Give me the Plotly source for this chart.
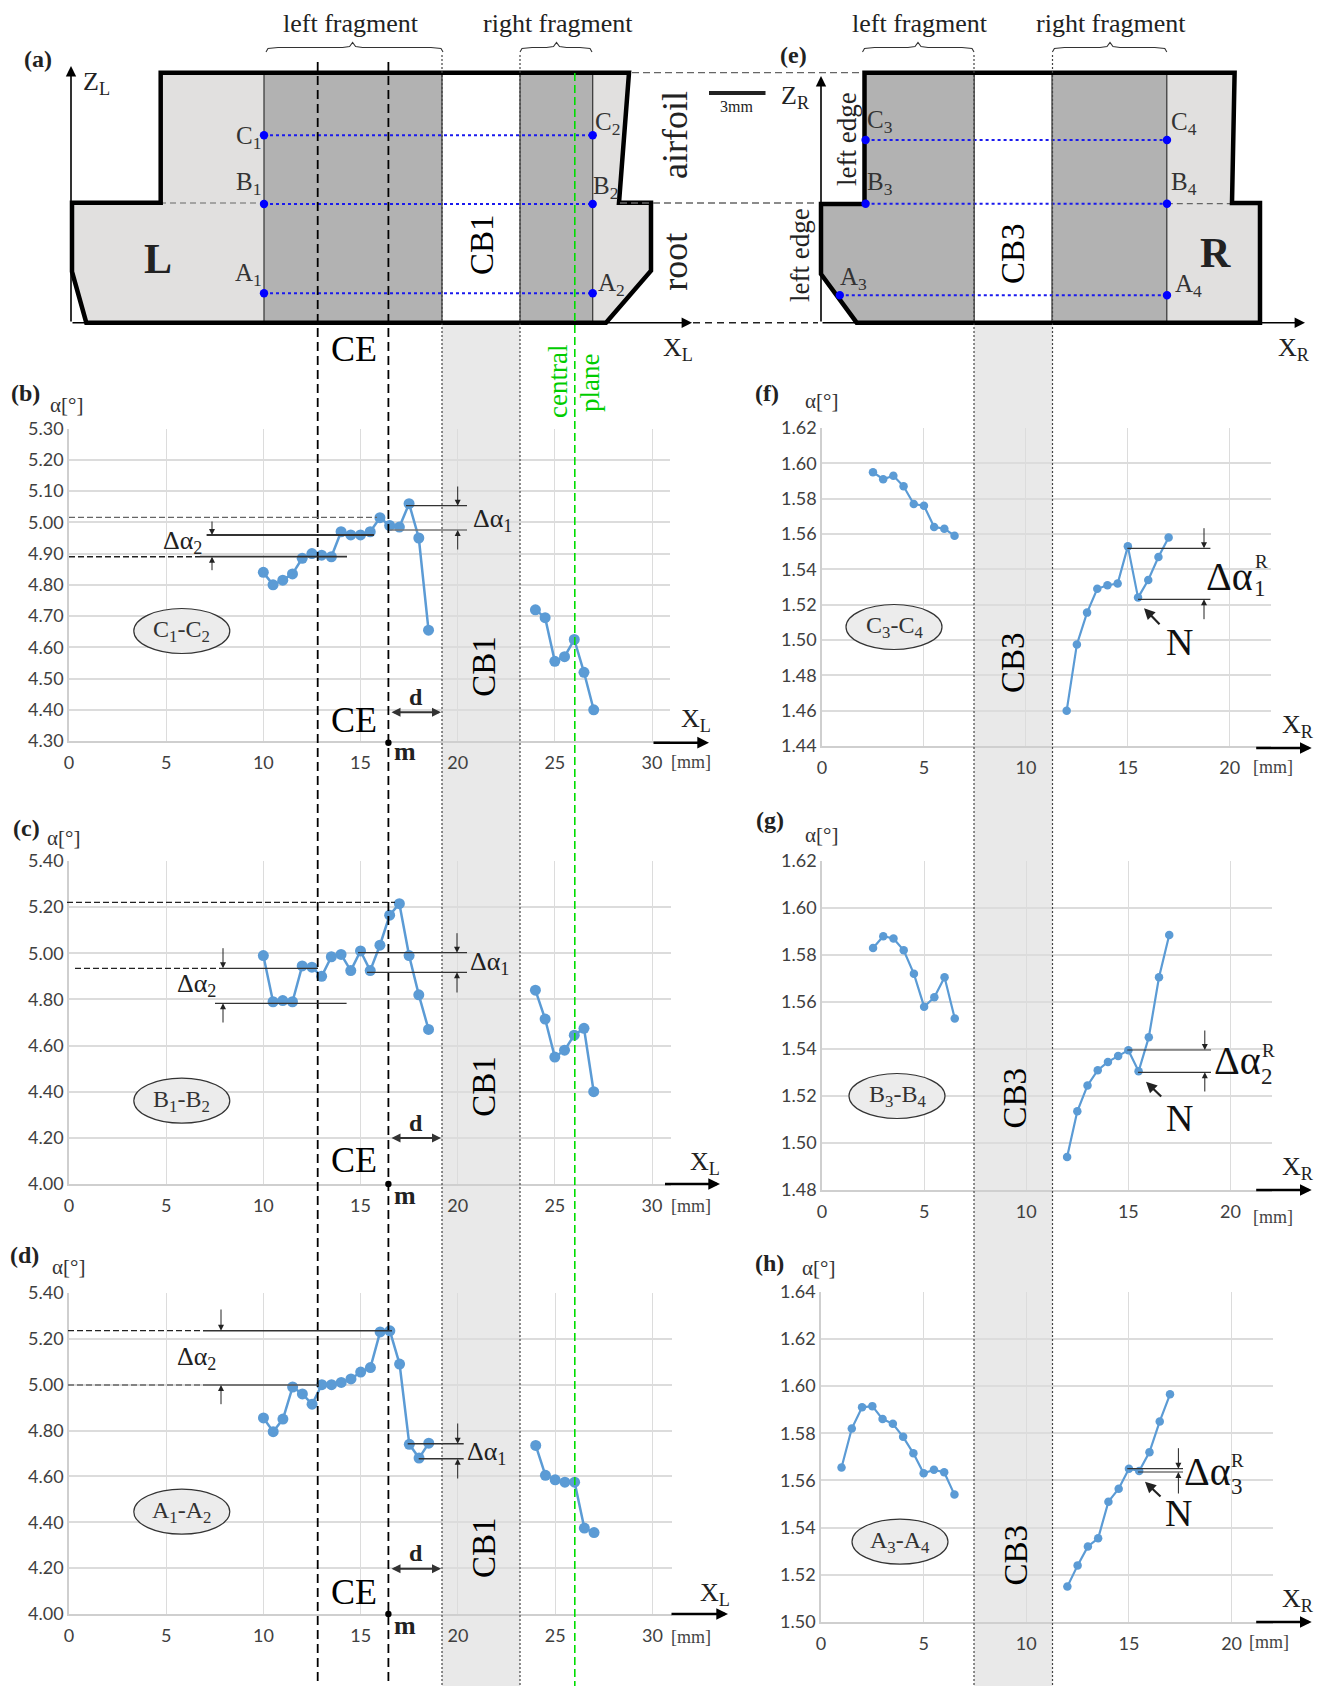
import plotly.graph_objects as go

# ---------- data ----------
x_left_mm = [10, 10.5, 11, 11.5, 12, 12.5, 13, 13.5, 14, 14.5, 15, 15.5, 16, 16.5, 17, 17.5, 18, 18.5]
x_right_mm = [24, 24.5, 25, 25.5, 26, 26.5, 27]
c1c2_left = [4.84, 4.80, 4.815, 4.835, 4.885, 4.90, 4.895, 4.89, 4.97, 4.96, 4.96, 4.97, 5.015, 4.99, 4.985, 5.06, 4.95, 4.655]
c1c2_right = [4.72, 4.695, 4.555, 4.57, 4.625, 4.52, 4.40]
b1b2_left = [4.99, 4.79, 4.795, 4.79, 4.945, 4.94, 4.90, 4.985, 4.995, 4.925, 5.01, 4.925, 5.035, 5.165, 5.215, 4.99, 4.82, 4.67]
b1b2_right = [4.84, 4.715, 4.55, 4.58, 4.645, 4.675, 4.40]
a1a2_left = [4.855, 4.795, 4.85, 4.99, 4.96, 4.915, 5.00, 5.00, 5.01, 5.025, 5.055, 5.075, 5.23, 5.235, 5.09, 4.74, 4.68, 4.745]
a1a2_right = [4.735, 4.605, 4.585, 4.575, 4.575, 4.375, 4.355]

xr_left = [2.5, 3, 3.5, 4, 4.5, 5, 5.5, 6, 6.5]
xr_left_a = [1, 1.5, 2, 2.5, 3, 3.5, 4, 4.5, 5, 5.5, 6, 6.5]
xr_right = [12, 12.5, 13, 13.5, 14, 14.5, 15, 15.5, 16, 16.5, 17]
c3c4_left = [1.595, 1.591, 1.593, 1.587, 1.577, 1.576, 1.564, 1.563, 1.559]
c3c4_right = [1.46, 1.4975, 1.5155, 1.529, 1.531, 1.532, 1.553, 1.524, 1.534, 1.547, 1.558]
b3b4_left = [1.583, 1.588, 1.587, 1.582, 1.572, 1.558, 1.562, 1.5705, 1.553]
b3b4_right = [1.494, 1.5135, 1.5245, 1.531, 1.5345, 1.537, 1.5395, 1.5305, 1.545, 1.5705, 1.5885]
a3a4_left = [1.5655, 1.582, 1.591, 1.5915, 1.586, 1.584, 1.5785, 1.5715, 1.563, 1.5645, 1.5635, 1.554]
a3a4_right = [1.515, 1.524, 1.532, 1.5355, 1.551, 1.5565, 1.565, 1.564, 1.572, 1.585, 1.5965]

ticks_xl = [0, 5, 10, 15, 20, 25, 30]
ticks_xr = [0, 5, 10, 15, 20]
ticks_b = [4.30, 4.40, 4.50, 4.60, 4.70, 4.80, 4.90, 5.00, 5.10, 5.20, 5.30]
ticks_cd = [4.00, 4.20, 4.40, 4.60, 4.80, 5.00, 5.20, 5.40]
ticks_f = [1.44, 1.46, 1.48, 1.50, 1.52, 1.54, 1.56, 1.58, 1.60, 1.62]
ticks_g = [1.48, 1.50, 1.52, 1.54, 1.56, 1.58, 1.60, 1.62]
ticks_h = [1.50, 1.52, 1.54, 1.56, 1.58, 1.60, 1.62, 1.64]

# ---------- page helpers ----------
W, H = 1324, 1686
SERIF = "Liberation Serif"
SANS = "Lato"
BLUE = "#5b9bd5"
DARK = "#333333"
GREEN = "#00dd00"
PX = lambda v: v / W
PY = lambda v: 1 - v / H

fig = go.Figure()
shapes, notes = [], []


def line(x0, y0, x1, y1, color="black", width=1.5, dash=None, layer="above"):
    shapes.append(dict(type="line", xref="paper", yref="paper", x0=PX(x0), y0=PY(y0), x1=PX(x1), y1=PY(y1),
                       line=dict(color=color, width=width, dash=dash), layer=layer))


def poly(points, fill=None, color=None, width=0, closed=True):
    d = "M" + " L".join(f"{PX(a):.5f},{PY(b):.5f}" for a, b in points) + (" Z" if closed else "")
    shapes.append(dict(type="path", xref="paper", yref="paper", path=d, fillcolor=fill or "rgba(0,0,0,0)",
                       line=dict(color=color or "rgba(0,0,0,0)", width=width), layer="above"))


def rect(x0, y0, x1, y1, fill, layer="above"):
    shapes.append(dict(type="rect", xref="paper", yref="paper", x0=PX(x0), y0=PY(y0), x1=PX(x1), y1=PY(y1),
                       fillcolor=fill, line=dict(width=0), layer=layer))


def dot(x, y, r=4.2, color="#0000ff"):
    shapes.append(dict(type="circle", xref="paper", yref="paper", x0=PX(x - r), x1=PX(x + r), y0=PY(y - r), y1=PY(y + r),
                       fillcolor=color, line=dict(width=0), layer="above"))


def ellipse(x, y, rx=48, ry=22.5):
    shapes.append(dict(type="circle", xref="paper", yref="paper", x0=PX(x - rx), x1=PX(x + rx), y0=PY(y - ry), y1=PY(y + ry),
                       fillcolor="#ececec", line=dict(color="#333333", width=1.2), layer="above"))


def text(x, y, s, size=22, color="#222222", angle=0, family=SERIF):
    notes.append(dict(xref="paper", yref="paper", x=PX(x), y=PY(y), text=s, showarrow=False, textangle=angle,
                      xanchor="center", yanchor="middle", font=dict(family=family, size=size, color=color)))


def arrow(x0, y0, x1, y1, width=1.0, size=1.0, both=False, color="#222222", head=2):
    notes.append(dict(xref="paper", yref="paper", x=PX(x1), y=PY(y1), ax=x0 - x1, ay=y0 - y1, axref="pixel", ayref="pixel",
                      text="", showarrow=True, arrowhead=head, arrowwidth=width, arrowsize=size, arrowcolor=color,
                      startarrowhead=head, startarrowsize=size, arrowside="end+start" if both else "end"))


def brace(x0, x1, mid, y0=52, y1=47.5, yp=42.5):
    p = [(x0, y0), (x0 + 2, y1 + 1), (x0 + 12, y1), (mid - 10, y1), (mid - 3, y1 - 1), (mid, yp),
         (mid + 3, y1 - 1), (mid + 10, y1), (x1 - 12, y1), (x1 - 2, y1 + 1), (x1, y0)]
    poly(p, color="#333333", width=1.1, closed=False)


# ---------- grey bands under the plots ----------
rect(442, 323, 520, H, "#e9e9e9", layer="below")
rect(974, 323, 1052.5, H, "#e9e9e9", layer="below")

# ---------- plots ----------
panels = [
    dict(px=(69, 652, 670), py=(428.7, 741), xt=ticks_xl, yt=ticks_b, xs=(x_left_mm, x_right_mm), ys=(c1c2_left, c1c2_right), ms=11, lw=2.5),
    dict(px=(69, 652, 671), py=(861, 1184), xt=ticks_xl, yt=ticks_cd, xs=(x_left_mm, x_right_mm), ys=(b1b2_left, b1b2_right), ms=11, lw=2.5),
    dict(px=(69, 652.4, 672), py=(1293, 1614), xt=ticks_xl, yt=ticks_cd, xs=(x_left_mm, x_right_mm), ys=(a1a2_left, a1a2_right), ms=11, lw=2.5),
    dict(px=(822, 1229.8, 1270.7), py=(428, 746), xt=ticks_xr, yt=ticks_f, xs=(xr_left, xr_right), ys=(c3c4_left, c3c4_right), ms=8.5, lw=2.2),
    dict(px=(822, 1230.5, 1271.5), py=(861, 1190), xt=ticks_xr, yt=ticks_g, xs=(xr_left, xr_right), ys=(b3b4_left, b3b4_right), ms=8.5, lw=2.2),
    dict(px=(821, 1231.6, 1273), py=(1291.7, 1622), xt=ticks_xr, yt=ticks_h, xs=(xr_left_a, xr_right), ys=(a3a4_left, a3a4_right), ms=8.5, lw=2.2),
]
GRID = "#dcdcdc"
for i, p in enumerate(panels, start=1):
    x0, xt_last, x1 = p["px"]
    top, bot = p["py"]
    xmax = p["xt"][-1] * (x1 - x0) / (xt_last - x0)
    fig.update_layout(**{
        f"xaxis{'' if i == 1 else i}": dict(
            domain=[PX(x0), PX(x1)], range=[0, xmax], anchor=f"y{'' if i == 1 else i}", tickvals=p["xt"],
            ticktext=[str(v) for v in p["xt"]], showgrid=True, gridcolor=GRID, gridwidth=1.2, zeroline=False,
            showline=True, linecolor="#cfcfcf", linewidth=1.5, ticks="", ticklabelstandoff=5, automargin=False,
            tickfont=dict(family=SANS, size=18, color="#404040")),
        f"yaxis{'' if i == 1 else i}": dict(
            domain=[PY(bot), PY(top)], range=[p["yt"][0], p["yt"][-1]], anchor=f"x{'' if i == 1 else i}", tickvals=p["yt"],
            ticktext=[f"{v:.2f}" for v in p["yt"]], showgrid=True, gridcolor=GRID, gridwidth=1.6, zeroline=False,
            showline=True, linecolor="#cfcfcf", linewidth=1.5, ticks="", automargin=False,
            tickfont=dict(family=SANS, size=18, color="#404040")),
    })
    for xs, ys in zip(p["xs"], p["ys"]):
        fig.add_trace(go.Scatter(x=xs, y=ys, mode="lines+markers", xaxis=f"x{'' if i == 1 else i}", yaxis=f"y{'' if i == 1 else i}",
                                 line=dict(color=BLUE, width=p["lw"]), marker=dict(color=BLUE, size=p["ms"]),
                                 showlegend=False, cliponaxis=False))

# ---------- schematic (a): left part ----------
L_out = [(160.7, 72.7), (629, 72.7), (619, 202.7), (651, 202.7), (651, 270.7), (606, 322.7), (86.3, 322.7), (72, 271.7), (72, 202.7), (160.7, 202.7)]
poly(L_out, fill="#e1e0df")
rect(264, 72.7, 442, 322.7, "#b2b2b2")
rect(442, 72.7, 520, 322.7, "#ffffff")
rect(520, 72.7, 592.7, 322.7, "#b2b2b2")
for v in (264, 442, 520, 592.7):
    line(v, 72.7, v, 322.7, color="#333333", width=1.2)
line(160, 203, 264, 203, color="#666666", width=1.2, dash="6px,4px")
poly(L_out, color="black", width=4.5)

# ---------- schematic (e): right part ----------
R_out = [(864.5, 72.7), (1234.6, 72.7), (1232, 203), (1260, 203), (1260, 322.7), (856.7, 322.7), (821, 274), (821, 204), (864.5, 204)]
poly(R_out, fill="#e1e0df")
poly([(864.5, 72.7), (974.2, 72.7), (974.2, 322.7), (856.7, 322.7), (821, 274), (821, 204), (864.5, 204)], fill="#b2b2b2")
rect(974.2, 72.7, 1052, 322.7, "#ffffff")
rect(1052, 72.7, 1166.8, 322.7, "#b2b2b2")
for v in (974.2, 1052, 1166.8):
    line(v, 72.7, v, 322.7, color="#333333", width=1.2)
line(1166.8, 203.7, 1232, 203.7, color="#666666", width=1.2, dash="6px,4px")
poly(R_out, color="black", width=4.5)

# schematic axes and connecting dashes
arrow(71, 323, 71, 66, width=1.6, size=1.3, color="black")
arrow(71, 322.7, 692, 322.7, width=1.6, size=1.3, color="black")
arrow(821, 323, 821, 76, width=1.6, size=1.3, color="black")
arrow(821, 322.7, 1305, 322.7, width=1.6, size=1.3, color="black")
line(693, 322.7, 818, 322.7, color="#222222", width=1.4, dash="7px,5px")
line(632, 72.7, 860, 72.7, color="#666666", width=1.3, dash="7px,4px")
line(620, 203, 817, 203, color="#666666", width=1.3, dash="7px,4px")

# measuring lines
for y, x0, x1 in [(135.3, 264, 592.7), (204, 264, 592.7), (293.3, 264, 592.7), (140, 865.6, 1167), (203.7, 865.6, 1167), (295.3, 839.8, 1167)]:
    line(x0, y, x1, y, color="#1a1aee", width=2, dash="dot")
    dot(x0, y)
    dot(x1, y)

# scale bar
line(709, 93, 765.5, 93, color="#222222", width=4)
text(736, 106, "3mm", size=16)

# ---------- lines crossing the whole page ----------
for v in (317.7, 388.4):
    line(v, 62, v, H, color="black", width=1.8, dash="9px,5px")
line(574.8, 73, 574.8, H, color=GREEN, width=1.6, dash="8px,4px")
for v in (442, 520, 974, 1052.5):
    line(v, 55, v, H, color="#444444", width=1.2, dash="2px,2px")

# ---------- texts of the schematics ----------
text(351, 24, "left fragment", size=26)
text(558, 24, "right fragment", size=26)
text(920, 24, "left fragment", size=26)
text(1111, 24, "right fragment", size=26)
brace(266, 443, 352.6)
brace(520, 592, 556.5)
brace(862.5, 974, 918)
brace(1052.4, 1166.8, 1110)
text(37.6, 59, "<b>(a)</b>", size=24)
text(793, 55, "<b>(e)</b>", size=24)
text(96, 83, "Z<sub>L</sub>", size=26)
text(678, 349, "X<sub>L</sub>", size=26)
text(795, 97, "Z<sub>R</sub>", size=26)
text(1294, 349, "X<sub>R</sub>", size=26)
text(675, 135, "airfoil", size=36, angle=-90)
text(675, 261.7, "root", size=36, angle=-90)
text(158, 259, "<b>L</b>", size=42)
text(1215, 253, "<b>R</b>", size=42)
text(482, 245, "CB1", size=33, color="black", angle=-90)
text(1013, 254, "CB3", size=33, color="black", angle=-90)
text(354, 349, "CE", size=36, color="black")
text(847, 139, "left edge", size=27, angle=-90)
text(800, 255, "left edge", size=27, angle=-90)
text(558, 382, "central", size=27, color="#00cc00", angle=-90)
text(590, 383, "plane", size=27, color="#00cc00", angle=-90)
for x, y, s in [(248, 137, "C<sub>1</sub>"), (249, 184, "B<sub>1</sub>"), (248, 275, "A<sub>1</sub>"),
                (607, 124, "C<sub>2</sub>"), (605, 187, "B<sub>2</sub>"), (611, 284, "A<sub>2</sub>"),
                (880, 121, "C<sub>3</sub>"), (880, 183, "B<sub>3</sub>"), (853, 279, "A<sub>3</sub>"),
                (1184, 123, "C<sub>4</sub>"), (1184, 183, "B<sub>4</sub>"), (1188, 285, "A<sub>4</sub>")]:
    text(x, y, s, size=25, color="#333333")

# ---------- panel labels ----------
for x, y, s in [(25, 393, "(b)"), (26, 828, "(c)"), (24, 1255, "(d)"), (767, 393, "(f)"), (770, 820, "(g)"), (769, 1263, "(h)")]:
    text(x, y, f"<b>{s}</b>", size=24, color="#222222")
for x, y in [(66.5, 405), (63, 838), (68, 1267), (821, 401), (821, 835), (818, 1268)]:
    text(x, y, "α[°]", size=21, color="#333333")

# ---------- left-column annotations ----------
# (b)
line(69, 517.3, 377, 517.3, color="#666666", width=1.2, dash="6px,3px")
line(206.6, 535, 374, 535, color="#333333", width=1.8)
line(69, 556.7, 200, 556.7, color="#222222", width=1.4, dash="6px,3px")
line(200, 556.7, 347, 556.7, color="#333333", width=1.8)
arrow(212, 520, 212, 535, size=1.2)
arrow(212, 571.7, 212, 556.7, size=1.2)
text(182, 542, "Δα<sub>2</sub>", size=26)
line(406, 505.7, 467, 505.7, color="#333333", width=1.2)
line(390, 530, 467, 530, color="#777777", width=1.4)
arrow(457.7, 485, 457.7, 505.7, size=1.2)
arrow(457.7, 551, 457.7, 530, size=1.2)
text(492, 520, "Δα<sub>1</sub>", size=26)
# (c)
line(67, 902.3, 395, 902.3, color="#222222", width=1.3, dash="6px,3px")
line(75, 968.3, 220, 968.3, color="#222222", width=1.2, dash="6px,3px")
line(220, 968.3, 318, 968.3, color="#333333", width=1.3)
line(215, 1003.3, 346.6, 1003.3, color="#333333", width=1.3)
arrow(223, 946.7, 223, 968.3, size=1.2)
arrow(223, 1024, 223, 1003.3, size=1.2)
text(196.5, 985, "Δα<sub>2</sub>", size=26)
line(358, 952.7, 467, 952.7, color="#333333", width=1.3)
line(367, 972.3, 467, 972.3, color="#333333", width=1.3)
arrow(457, 931.7, 457, 952.7, size=1.2)
arrow(457, 994, 457, 972.3, size=1.2)
text(489, 963, "Δα<sub>1</sub>", size=26)
# (d)
line(68, 1330.7, 203, 1330.7, color="#222222", width=1.3, dash="6px,3px")
line(203, 1330.7, 392, 1330.7, color="#333333", width=1.6)
line(68, 1385, 203, 1385, color="#666666", width=1.3, dash="6px,3px")
line(203, 1385, 318, 1385, color="#555555", width=1.6)
arrow(221, 1308, 221, 1330.7, size=1.2)
arrow(221, 1405.7, 221, 1385, size=1.2)
text(196.5, 1358, "Δα<sub>2</sub>", size=26)
line(407.7, 1443.7, 463.7, 1443.7, color="#333333", width=1.6)
line(418.7, 1458.7, 463.7, 1458.7, color="#333333", width=1.6)
arrow(457.7, 1422, 457.7, 1443.7, size=1.2)
arrow(457.7, 1480, 457.7, 1458.7, size=1.2)
text(486.7, 1453, "Δα<sub>1</sub>", size=26)

for dy, ay, cey, axis_y, my, cb_y, ex, ey, lab, s, xl_x, xl_y, a0, a1, mm_y in [
    (696.7, 712.3, 720, 742.7, 751.7, 666.7, 181.8, 631, "m", "C<sub>1</sub>-C<sub>2</sub>", 695.6, 720, 652, 709, 761.7),
    (1123, 1138, 1160, 1184, 1195, 1086.7, 181.8, 1100.7, "m", "B<sub>1</sub>-B<sub>2</sub>", 705, 1163, 663.5, 720, 1205.7),
    (1553, 1568.7, 1591.7, 1614, 1625, 1548, 181.8, 1511.7, "m", "A<sub>1</sub>-A<sub>2</sub>", 715, 1594, 670, 728, 1636.7),
]:
    text(415.5, dy, "<b>d</b>", size=24)
    arrow(390, ay, 441, ay, width=2, size=0.9, both=True, color="#333333")
    text(354, cey, "CE", size=36, color="black")
    dot(388.4, axis_y, r=3.2, color="black")
    text(405, my, f"<b>{lab}</b>", size=26, color="#222222")
    text(484, cb_y, "CB1", size=33, color="black", angle=-90)
    ellipse(ex, ey)
    text(ex, ey, s, size=24, color="#333333")
    text(xl_x, xl_y, "X<sub>L</sub>", size=26, color="#222222")
    arrow(a0, axis_y, a1, axis_y, width=2.6, size=0.9, color="black")
    text(691, mm_y, "[mm]", size=18, color="#444444")

# ---------- right-column annotations ----------
right = [
    dict(y1=548.3, y2=599.3, xe=1210.4, ax=1204, a_top=526.7, a_bot=620.7, dl=(1229, 576.7), r=(1261, 562), n=(1260, 589), idx="1",
         N=(1179.5, 642), na=(1161, 625.7, 1144, 608.3), ell=(894, 627), s="C<sub>3</sub>-C<sub>4</sub>", cb=(1013, 663), xr=726, ay=748, mm=(1272.6, 766.7)),
    dict(y1=1050, y2=1072.3, xe=1211, ax=1204.8, a_top=1029, a_bot=1093, dl=(1237, 1060), r=(1268, 1050), n=(1267, 1076), idx="2",
         N=(1179.5, 1118), na=(1162.7, 1098, 1146, 1081.7), ell=(897, 1096), s="B<sub>3</sub>-B<sub>4</sub>", cb=(1014.5, 1098), xr=1168, ay=1190, mm=(1272.6, 1217)),
    dict(y1=1468.7, y2=1472, xe=1183, ax=1178.4, a_top=1446.7, a_bot=1495, dl=(1207, 1471.7), r=(1237.6, 1460), n=(1237, 1486), idx="3",
         N=(1178.7, 1513), na=(1162, 1498, 1145, 1481.7), ell=(900, 1541.7), s="A<sub>3</sub>-A<sub>4</sub>", cb=(1015.6, 1555), xr=1600, ay=1622, mm=(1269, 1641.7)),
]
for r in right:
    line(1127.3, r["y1"], r["xe"], r["y1"], color="#333333", width=1.2)
    line(1138, r["y2"], r["xe"], r["y2"], color="#333333", width=1.2)
    arrow(r["ax"], r["a_top"], r["ax"], r["y1"], size=1.2)
    arrow(r["ax"], r["a_bot"], r["ax"], r["y2"], size=1.2)
    text(*r["dl"], "Δα", size=40, color="#111111")
    text(*r["r"], "R", size=19, color="#222222")
    text(*r["n"], r["idx"], size=23, color="#222222")
    text(*r["N"], "N", size=38, color="#111111")
    a, b, c, d = r["na"]
    arrow(a, b, c, d, width=2.2, size=1.0, color="#222222")
    ellipse(*r["ell"])
    text(*r["ell"], r["s"], size=24, color="#333333")
    text(*r["cb"], "CB3", size=33, color="black", angle=-90)
    text(1297.5, r["xr"], "X<sub>R</sub>", size=26, color="#222222")
    arrow(1254.7, r["ay"], 1311.7, r["ay"], width=2.6, size=0.9, color="black")
    text(*r["mm"], "[mm]", size=18, color="#444444")

fig.update_layout(width=W, height=H, autosize=False, margin=dict(l=0, r=0, t=0, b=0, autoexpand=False), paper_bgcolor="white",
                  plot_bgcolor="rgba(0,0,0,0)", showlegend=False, shapes=shapes, annotations=notes)
fig.write_html("out.html", config={"displayModeBar": False},
               post_script="document.body.style.margin='0';document.body.style.overflow='hidden';")
